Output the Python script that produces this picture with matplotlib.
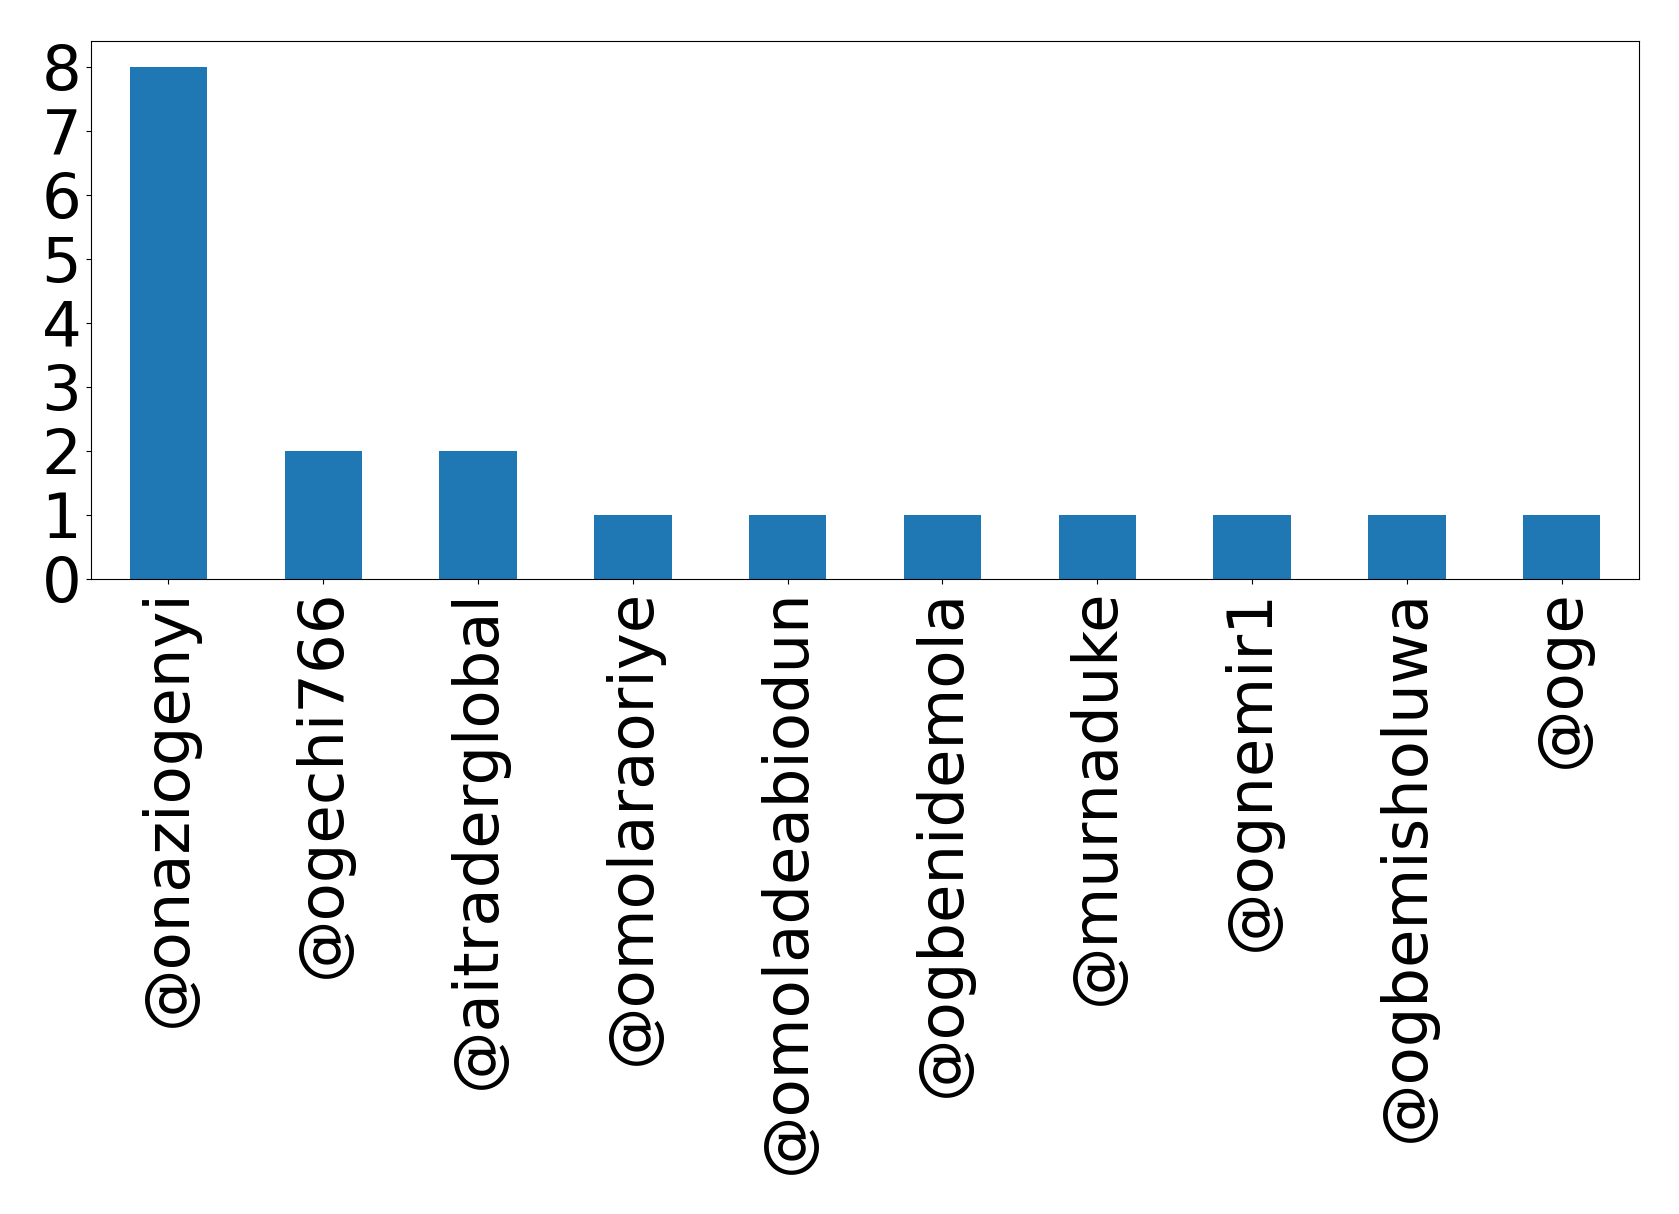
import matplotlib
matplotlib.use("Agg")
import matplotlib.pyplot as plt
import pandas as pd

users = ["@onaziogenyi", "@ogechi766", "@aitraderglobal", "@omolaraoriye",
         "@omoladeabiodun", "@ogbenidemola", "@murnaduke", "@ognemir1",
         "@ogbemisholuwa", "@oge"]
counts = [8, 2, 2, 1, 1, 1, 1, 1, 1, 1]

plt.rcParams["font.size"] = 45

counts_s = pd.Series(counts, index=users)

fig = plt.figure(figsize=(16.79, 12.14), dpi=100)
ax = fig.add_axes([91 / 1679, 1 - 579 / 1214, (1639 - 91) / 1679, (579 - 41) / 1214])
counts_s.plot(kind="bar", ax=ax, color="#1f77b4")
ax.tick_params(axis="x", labelrotation=90)
ax.set_yticks(range(0, 9))

fig.savefig("out.png", dpi=100)
